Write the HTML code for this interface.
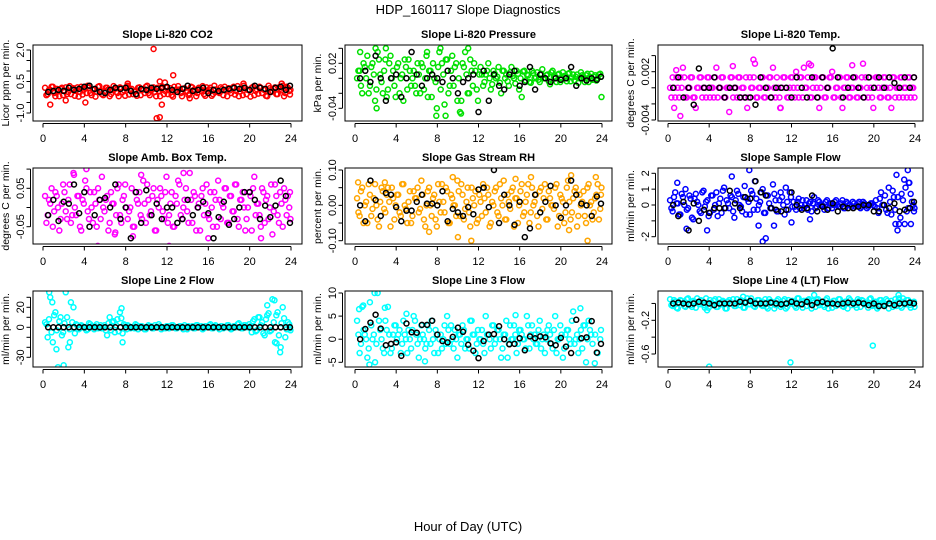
<!DOCTYPE html>
<html><head><meta charset="utf-8"><style>
html,body{margin:0;padding:0;background:#fff;}
svg{display:block;font-family:"Liberation Sans",Arial,sans-serif;}
</style></head><body>
<svg id="chart" width="936" height="540" viewBox="0 0 936 540" xmlns="http://www.w3.org/2000/svg">
<text x="468" y="14" text-anchor="middle" font-size="13">HDP_160117  Slope Diagnostics</text>
<text x="468" y="531" text-anchor="middle" font-size="13">Hour of Day (UTC)</text>
</svg>
<script>
const hours=[0.2,0.45,0.7,0.95,1.2,1.45,1.7,1.95,2.2,2.45,2.7,2.95,3.2,3.45,3.7,3.95,4.2,4.45,4.7,4.95,5.2,5.45,5.7,5.95,6.2,6.45,6.7,6.95,7.2,7.45,7.7,7.95,8.2,8.45,8.7,8.95,9.2,9.45,9.7,9.95,10.2,10.45,10.7,10.95,11.2,11.45,11.7,11.95,12.2,12.45,12.7,12.95,13.2,13.45,13.7,13.95,14.2,14.45,14.7,14.95,15.2,15.45,15.7,15.95,16.2,16.45,16.7,16.95,17.2,17.45,17.7,17.95,18.2,18.45,18.7,18.95,19.2,19.45,19.7,19.95,20.2,20.45,20.7,20.95,21.2,21.45,21.7,21.95,22.2,22.45,22.7,22.95,23.2,23.45,23.7,23.95];
const hours2=[0.33,0.58,0.83,1.08,1.33,1.58,1.83,2.08,2.33,2.58,2.83,3.08,3.33,3.58,3.83,4.08,4.33,4.58,4.83,5.08,5.33,5.58,5.83,6.08,6.33,6.58,6.83,7.08,7.33,7.58,7.83,8.08,8.33,8.58,8.83,9.08,9.33,9.58,9.83,10.08,10.33,10.58,10.83,11.08,11.33,11.58,11.83,12.08,12.33,12.58,12.83,13.08,13.33,13.58,13.83,14.08,14.33,14.58,14.83,15.08,15.33,15.58,15.83,16.08,16.33,16.58,16.83,17.08,17.33,17.58,17.83,18.08,18.33,18.58,18.83,19.08,19.33,19.58,19.83,20.08,20.33,20.58,20.83,21.08,21.33,21.58,21.83,22.08,22.33,22.58,22.83,23.08,23.33,23.58,23.83,23.9];
const blackHours=[0.5,1,1.5,2,2.5,3,3.5,4,4.5,5,5.5,6,6.5,7,7.5,8,8.5,9,9.5,10,10.5,11,11.5,12,12.5,13,13.5,14,14.5,15,15.5,16,16.5,17,17.5,18,18.5,19,19.5,20,20.5,21,21.5,22,22.5,23,23.5,23.9];
const xTicks=[0,4,8,12,16,20,24];

const co2Vals=[0.2,-0.1,0.1,0.25,-0.2,0.05,0.15,-0.15,0.22,0,-0.1,0.18,0.08,-0.22,0.25,0.1,-0.05,0.2,-0.15,0.12,0.02,0.28,-0.1,0.05,0.2,-0.2,0.1,0.15,-0.05,0.22,0,-0.18,0.3,0.1,-0.1,0.05,0.2,-0.15,0.12,0.25,-0.05,0.1,0.22,-0.2,0.05,0.15,-0.1,0.2,0.08,-0.15,0.25,0.02,0.12,-0.2,0.18,0.05,-0.1,0.22,0.1,-0.05,0.15,0.28,-0.18,0.05,0.2,-0.1,0.12,0,0.22,-0.15,0.1,0.18,-0.05,0.25,0.05,-0.2,0.15,0.3,-0.1,0.08,0.2,-0.15,0.12,0.25,-0.05,0.1,-0.2,0.18,0.05,0.22,-0.1,0.15,0.3,-0.05,0.2,0.1];
const co2Vals2=[-0.15,0.1,0.25,-0.05,0.15,-0.2,0.2,0.05,-0.1,0.28,0.12,-0.18,0.22,0,-0.12,0.18,0.3,-0.05,0.1,-0.22,0.25,0.05,-0.15,0.2,0.12,-0.1,0.28,0,-0.2,0.18,0.08,0.25,-0.12,0.15,0.02,-0.18,0.22,0.1,-0.05,0.3,-0.15,0.12,0,0.2,-0.2,0.25,0.05,-0.1,0.18,-0.22,0.1,0.28,-0.05,0.15,0.02,-0.15,0.25,0.1,-0.2,0.2,0.05,-0.1,0.22,0.12,-0.18,0.3,0,-0.05,0.15,0.25,-0.2,0.08,0.2,-0.12,0.28,0.02,-0.15,0.18,0.1,-0.22,0.25,0.05,-0.08,0.2,0.12,-0.18,0.3,0,0.15,-0.1,0.22,0.08,-0.2,0.25,0.05,-0.12];
const co2Black=[0,0.05,0.1,0.05,0.2,0.1,0.15,0.25,0.3,0.15,0,-0.05,0.1,0.2,0.15,0.2,0.05,-0.1,0.15,0.1,0.2,0.15,0.2,0.25,0.1,0,0.15,0.3,0.05,0.1,0.2,-0.05,0.1,0.05,0.1,0.15,0.2,0.15,0.2,0.1,0.3,0.2,0.15,0,0.2,0.25,0.1,0.3];
const co2OutX=[10.7,12.6,11.3,11.8,11.5,11.3,11.0,0.7,4.1,8.2,19.4,23.1,14.2,2.2];
const co2OutY=[2.05,0.8,0.5,0.45,-0.6,-1.2,-1.25,-0.6,-0.5,0.4,0.4,0.4,-0.3,-0.4];

const presVals=[0,0.01,-0.02,0.015,0.03,-0.01,0.02,-0.03,0.035,0.005,-0.02,0.025,-0.015,0.03,0.01,-0.025,0.02,0,-0.03,0.015,0.025,-0.01,0.01,-0.02,0.005,0.02,-0.015,0.03,0.01,-0.025,0,-0.04,0.035,0.02,-0.035,0.025,-0.01,0.03,0.015,-0.03,-0.045,0.02,0.035,-0.02,0.025,-0.01,0.01,-0.03,0.015,-0.01,0.005,0.02,-0.015,0.01,0,0.015,-0.02,0.01,0.005,-0.01,0.015,0,0.01,-0.015,-0.025,0.01,0.005,-0.005,0.01,0,0.008,-0.005,0.012,0,0.005,-0.008,0.01,0.002,0.005,-0.005,0.008,0,0.006,-0.004,0.005,0.002,-0.006,0.008,0,0.004,-0.005,0.006,0.002,-0.003,0.005,-0.025];
const presVals2=[0.01,-0.01,0.02,0,-0.02,0.015,0.005,-0.015,0.025,-0.005,0.01,-0.025,0.02,0,-0.01,0.015,-0.02,0.005,0.025,-0.015,0.01,0,-0.01,0.02,-0.02,0.015,0,-0.025,0.01,0.02,-0.005,0.015,-0.015,0.005,0.025,-0.02,0.01,-0.01,0.02,0,-0.03,0.015,0.005,-0.02,0.01,0.02,-0.015,0.005,0.005,-0.005,0.01,0,-0.008,0.006,0.002,-0.006,0.01,0,-0.004,0.008,0.003,-0.007,0.006,0,0.009,-0.003,0.004,-0.006,0.007,0.001,-0.002,0.006,0,0.004,-0.004,0.008,0.002,-0.005,0.006,0,0.003,-0.004,0.007,0.001,-0.003,0.005,0,0.004,-0.005,0.006,0.002,-0.002,0.004,0,0.006,0.002];
const presBlack=[0,0.01,-0.005,0.03,0,-0.03,0,0.005,-0.025,0,0.035,0.005,-0.01,0,0.005,0,-0.005,0.01,0,-0.02,-0.005,0,0.005,-0.045,0.01,-0.03,0.005,-0.01,-0.015,0.005,0.01,-0.01,-0.005,0.015,-0.015,0.005,0,-0.005,0,-0.002,0,0.015,-0.01,0,-0.003,0,-0.002,0.002];
const presOutX=[0.5,2.0,3.0,7.0,8.3,8.8,10.3,11.0,2.1,7.9];
const presOutY=[0.035,0.04,0.04,0.035,0.04,-0.05,-0.047,0.04,-0.04,-0.05];

const tempVals=[0,0.0013,-0.0012,0,0.0013,0.0025,-0.0012,0,0.0013,-0.0012,-0.0025,0,0.0013,0,-0.0012,0.0013,0,-0.0012,0.0025,0,0.0013,-0.0012,0,-0.003,0.0013,0,-0.0012,0.0013,0,-0.0012,-0.0025,0.0013,0,0.003,-0.0012,0,0.0013,-0.0012,0,0.0013,0.0025,-0.0012,0,-0.0025,0.0013,0,-0.0012,0.0013,0,0.002,-0.0012,0.0013,0.0025,0,0.003,-0.0012,0.0013,0,-0.0025,0.0013,-0.0012,0,0.0013,0.002,-0.0012,0,0.0013,-0.0025,0,0.0013,-0.0012,0,0.0013,-0.0012,0,0.003,0.0013,-0.0012,0,-0.0025,0.0013,0,-0.0012,0.0013,0,-0.0012,-0.0025,0.0013,0,-0.0012,0.0013,0,-0.0012,0.0013,0,-0.0012];
const tempVals2=[-0.0012,0,0.0013,-0.0012,0,0.0013,-0.0012,0,0.0013,-0.0012,0,0.0013,-0.0012,0,0.0013,-0.0012,0,0.0013,-0.0012,0,0.0013,-0.0012,0,0.0013,-0.0012,0,0.0013,-0.0012,0,0.0013,-0.0012,0,0.0013,-0.0012,0,0.0013,-0.0012,0,0.0013,-0.0012,0,0.0013,-0.0012,0,0.0013,-0.0012,0,0.0013,-0.0012,0,0.0013,-0.0012,0,0.0013,-0.0012,0,0.0013,-0.0012,0,0.0013,-0.0012,0,0.0013,-0.0012,0,0.0013,-0.0012,0,0.0013,-0.0012,0,0.0013,-0.0012,0,0.0013,-0.0012,0,0.0013,-0.0012,0,0.0013,-0.0012,0,0.0013,-0.0012,0,0.0013,-0.0012,0,0.0013,-0.0012,0,0.0013,-0.0012,0,0.0013];
const tempBlack=[0,0.0013,-0.0012,0,-0.0021,0.0024,0,0,0.0013,0,-0.0012,0,0,-0.0012,-0.0012,-0.0012,-0.0021,0.0013,0,-0.0012,0,0,0,-0.0012,0.0013,0,-0.0012,0.0013,-0.0012,0.0013,0,0.0049,0.0013,-0.0012,0,0.0013,0,-0.0012,0.0013,0,0.0013,0,0.0013,0.0006,0,0.0013,0,0.0013];
const tempOutX=[2.7,9.0,12.0,14.4,0.6,1.2,8.3,6.3,13.9,17.9,0.8,10.9];
const tempOutY=[-0.0045,-0.0045,-0.0045,-0.0045,-0.0025,-0.0035,0.0035,0.0027,0.0028,0.0028,0.0022,-0.0025];

const ambVals=[0.03,-0.02,0.01,-0.05,0.04,0,-0.03,0.06,-0.01,0.02,-0.04,0.09,-0.02,0.03,-0.06,0.01,0.05,-0.03,0,0.04,-0.05,0.02,0.08,-0.01,0.03,-0.04,0.01,-0.07,0.05,-0.02,0.02,0.06,-0.03,0,-0.05,0.04,0.01,-0.02,0.07,-0.04,0.02,-0.01,0.05,-0.06,0,0.03,-0.03,0.08,-0.02,0.04,-0.05,0.01,0.06,-0.03,0.02,-0.01,0.09,-0.04,0.03,0,-0.06,0.05,0.01,-0.02,0.04,-0.05,0.02,0.07,-0.03,0,0.05,-0.04,0.03,-0.01,0.06,-0.05,0.02,0,-0.03,0.04,-0.06,0.08,0.01,-0.02,0.05,-0.04,0.03,0,-0.07,0.06,-0.02,0.04,-0.05,0.02,0.03,-0.03];
const ambVals2=[-0.04,0.02,0.05,-0.01,0.03,-0.06,0.01,0.04,-0.03,0.06,-0.02,0,0.03,-0.05,0.02,0.07,-0.01,0.04,-0.04,0.01,0.05,-0.03,0,0.02,-0.06,0.04,0.01,-0.02,0.06,-0.04,0.03,0,-0.01,0.05,-0.05,0.02,0.04,-0.03,0.01,0.06,-0.02,0.03,-0.06,0.02,0.05,-0.01,0.04,-0.04,0.01,-0.05,0.03,0.07,-0.02,0,0.05,-0.04,0.02,0.04,-0.06,0.01,0.03,-0.02,0.06,-0.03,0,0.04,-0.05,0.02,0.01,0.05,-0.04,0.03,-0.01,0.06,-0.03,0.02,0.04,-0.06,0,0.03,0.05,-0.02,0.01,-0.05,0.04,0.02,-0.03,0.06,-0.01,0.03,-0.04,0.01,0.05,-0.02,0,0.04];
const ambBlack=[-0.02,0.02,-0.035,0.015,0.01,0.06,-0.015,0.04,-0.05,-0.02,0.02,0.025,0,0.06,-0.03,0,-0.08,0.04,-0.04,0.045,-0.02,0.01,-0.03,0,0,-0.04,-0.03,0.02,-0.02,0,0.015,-0.015,-0.08,-0.025,0.015,-0.045,-0.03,0,0.04,0.04,0.02,-0.03,0.005,-0.025,0.005,0.07,0.03,-0.04];
const ambOutX=[1.4,1.9,4.2,5.3,12.2,8.7,21.1,16.0,7.0,3.0,9.5,13.6];
const ambOutY=[0.11,0.11,0.1,-0.1,-0.1,-0.075,-0.08,-0.08,-0.065,0.085,0.085,0.09];

const rhVals=[0.02,-0.03,0.05,0,-0.05,0.03,-0.01,0.06,-0.04,0.01,0.04,-0.02,0.05,-0.06,0.02,0,0.03,-0.03,0.06,-0.01,0.01,-0.05,0.04,0.02,-0.02,0.07,-0.04,0,0.05,-0.03,0.03,-0.06,0.01,0.06,-0.02,0.04,-0.05,0.02,0,0.07,-0.03,0.03,-0.01,0.05,-0.06,0.02,0.04,-0.04,0.01,0.06,-0.02,0.03,-0.05,0,0.05,-0.03,0.02,0.07,-0.04,0.01,0.04,-0.06,0.02,0,0.06,-0.02,0.03,-0.05,0.05,0.01,-0.03,0.04,-0.01,0.06,-0.04,0.02,0,0.05,-0.06,0.03,0.01,-0.02,0.07,-0.04,0.02,0.05,-0.03,0,0.04,-0.05,0.06,0.01,-0.02,0.03,-0.04,0.05];
const rhVals2=[-0.02,0.04,-0.05,0.01,0.06,-0.03,0.02,0,-0.06,0.05,-0.01,0.03,0.01,0.05,-0.04,0.03,-0.02,0.06,0,-0.05,0.04,-0.03,0.02,0.05,-0.01,0.03,-0.06,0.04,0,0.02,-0.04,0.06,-0.02,0.01,0.05,-0.05,0.03,0,-0.03,0.04,0.06,-0.04,0.01,-0.02,0.05,0,-0.05,0.03,-0.03,0.02,0.05,-0.06,0.01,0.04,-0.02,0.06,0,-0.04,0.03,-0.01,0.05,0.02,-0.05,0.04,-0.03,0.01,0.06,-0.02,0,0.03,-0.06,0.05,0.02,-0.04,0.04,0,-0.01,0.06,-0.03,0.02,-0.05,0.05,0.01,-0.02,0.04,-0.06,0.03,0.01,-0.03,0.05,0,-0.04,0.02,0.06,-0.01,0.03];
const rhBlack=[0,-0.045,0.07,0.015,-0.03,0.035,0.03,-0.005,-0.045,-0.015,-0.015,0.01,0.03,0.005,0.005,0,0.04,-0.045,-0.01,-0.02,-0.03,-0.005,-0.025,0.045,0.05,-0.005,0.1,-0.05,0.03,0,-0.055,0.01,-0.09,-0.065,0.03,-0.02,0.01,0.055,0,-0.035,0,0.07,0.03,0.005,0,-0.03,0.025,0.005];
const rhOutX=[0.3,2.9,9.5,10.0,11.3,7.2,20.8,21.0,22.6,23.4,17.1,15.6];
const rhOutY=[0.065,0.065,0.08,-0.09,-0.1,-0.075,-0.07,0.085,-0.1,0.08,0.08,0.075];

const flowVals=[0.3,-0.4,0.8,0.1,-0.6,0.5,1.0,-0.2,0.4,-0.9,0.7,0,-0.5,0.9,0.2,-0.7,0.6,-0.3,0.8,0.1,-0.5,1.1,0.3,-0.2,0.5,-0.8,0.9,0,-0.4,1.2,0.4,-0.6,0.7,1.5,-0.3,0.2,1.0,-0.5,0.6,-0.2,1.3,0.3,-0.4,0.8,0,1.1,-0.3,0.5,0.2,-0.3,0.4,0,-0.2,0.3,0.1,-0.4,0.5,-0.1,0.2,0,-0.3,0.3,0.1,-0.2,0.2,0,-0.1,0.3,-0.2,0.1,0,0.2,-0.1,0.1,-0.2,0.2,0,-0.1,0.1,0,0.3,-0.5,0.8,0,-0.3,1.1,-0.6,0.5,1.9,-1.2,0.7,1.6,-0.4,1.4,0.2,-0.2];
const flowVals2=[-0.2,0.5,0.1,-0.6,0.7,0,-0.3,0.6,-0.8,0.4,0.2,-0.4,0.8,-0.1,0.3,-0.5,0.6,0,-0.7,0.4,0.9,-0.2,0.1,0.6,-0.4,0.3,0.7,-0.1,0.5,-0.6,0.2,0.9,-0.3,0.4,0,0.8,-0.5,0.6,0.1,-0.2,0.7,-0.4,0.3,0.5,-0.6,0.2,0.8,-0.1,-0.1,0.2,-0.2,0.3,0,-0.3,0.2,0.1,-0.2,0.3,0,-0.1,0.2,-0.2,0.1,0,0.3,-0.1,0.1,-0.2,0.2,0,-0.1,0.1,0,0.2,-0.1,0.1,-0.2,0,0.1,-0.1,-0.2,0.4,0,0.6,-0.5,0.2,0.9,-0.3,0.5,-0.8,0.3,1.1,-0.2,0.7,0,-0.4];
const flowBlack=[0,-0.7,0.2,-1.6,0.1,-1.0,-0.3,-0.5,-0.2,-0.2,-0.2,0.9,0.1,-0.2,0.5,0.4,1.5,0.8,0.6,-0.2,-0.3,-0.4,-0.3,0.8,0,-0.3,-0.2,0.6,-0.4,-0.1,-0.3,0.1,-0.4,-0.1,-0.2,-0.2,-0.1,0,0,-0.4,-0.4,0,-0.2,0.1,-0.4,-0.3,-0.2,0.2];
const flowOutX=[0.9,1.8,3.8,6.2,7.9,9.2,9.5,8.8,10.3,12.0,13.8,22.1,22.3,23.3,23.0,23.6,23.4];
const flowOutY=[1.4,-1.5,-1.6,1.8,2.2,-2.3,-2.1,-1.3,-1.3,-1.1,-0.9,-1.2,-1.6,2.2,-1.2,-1.2,1.4];

const l2Vals=[5,-10,30,-15,15,-40,10,-5,35,-20,25,20,3,-2,2,0,-3,4,1,-2,3,0,-1,2,-8,10,5,-5,8,15,-6,2,2,-1,0,3,-2,1,0,-2,2,1,-1,0,3,-2,0,1,-1,2,0,-1,1,0,2,-2,0,1,-1,2,0,-2,1,0,3,-1,2,0,1,-1,0,2,-2,1,0,4,-1,2,0,3,-5,8,-3,10,5,-8,12,-4,28,-15,15,-25,20,-10,5,-3];
const l2Vals2=[3,8,-5,12,-3,6,-8,4,10,-2,5,-6,2,-1,1,0,-2,3,0,1,-1,2,0,-3,4,-3,6,2,-4,9,3,-2,1,0,-1,2,0,1,-2,0,1,-1,2,0,1,0,-1,1,0,2,-1,0,1,-2,0,1,0,-1,2,0,1,-1,0,2,-1,1,0,-2,1,0,2,0,-1,1,3,0,-1,2,0,1,6,-4,10,2,-6,8,14,-3,5,12,-8,4,9,-2,3,-1];
const l2Black=[0,0,0,0,0,0,0,0,0,0,0,0,0,0,0,0,0,0,0,0,0,0,0,0,0,0,0,0,0,0,0,0,0,0,0,0,0,0,0,0,0,0,0,0,0,0,0,0];
const l2OutX=[0.6,2.0,1.3,7.7,7.6,21.7,22.4,23.0,22.6,0.9,2.6];
const l2OutY=[35,-38,-22,-15,19,22,27,-20,-16,25,-15];

const l3Vals=[4,-3,7,1,-4,8,0,-5,10,2,-2,4,7,-3,1,3,1,-3,4,0,2,-2,5,1,-4,3,0,-1,2,4,-3,1,0,-2,3,5,-1,0,2,-4,1,3,-2,0,4,1,-3,2,0,-1,5,1,-2,3,0,2,-4,1,4,-1,0,3,-3,2,1,0,5,-2,3,1,-1,4,0,-3,2,1,-2,5,0,3,-4,1,2,-1,6,0,-3,2,3,-5,4,1];
const l3Vals2=[1,-1,2,0,-2,3,1,-1,4,0,-3,2,1,-2,3,0,2,-1,1,-3,0,2,4,-1,0,1,-2,3,-1,0,2,-3,1,0,-1,2,3,-2,0,1,-1,2,0,-2,4,1,-1,0,2,-3,1,0,3,-1,2,0,-2,1,-4,3,0,1,-1,2,0,-2,3,1,0,-1,2,-2,1,0,3,-1,2,-3,0,1,-2,2,0,4,-1,1,0,-2,3,0,2,-1,1,-3,0,2];
const l3Black=[0,2.2,3.6,5.3,2.3,-1.3,-1.0,-0.7,-3.6,3.4,1.5,1.4,3.1,3.1,4.0,1.0,-0.4,-0.7,0.5,2.5,1.6,-1.2,-2.5,-4.1,-0.4,1.0,1.1,2.8,0,-1.1,-1.0,0.2,-2.4,0.6,0.2,0.6,0.4,-0.9,-1.3,0.3,-1.6,-3.0,4.2,0.2,0.4,3.9,-2.9,-1.0];
const l3OutX=[1.4,1.9,0.4,15.6,21.9,23.3,6.8,2.9,0.8,5.0];
const l3OutY=[-5.5,10,6.5,5.2,6.7,-5.2,-4.8,6.8,7.3,5.5];

const l4Vals=[0.05,-0.03,0.02,-0.06,0.04,0,-0.04,0.06,-0.02,0.03,-0.05,0.01,0.04,-0.02,0.06,-0.05,0.01,0.03,-0.04,0.05,-0.01,0.02,-0.06,0.04,0,-0.03,0.05,-0.02,0.03,-0.05,0.06,-0.01,0.02,-0.04,0.04,0,-0.03,0.05,-0.06,0.02,0.01,-0.02,0.05,-0.04,0.03,-0.06,0.04,0,0.02,-0.05,0.06,-0.01,0.03,-0.03,0.05,-0.06,0.01,0.04,-0.02,0.02,-0.04,0.06,0,-0.05,0.03,-0.01,0.05,-0.03,0.02,-0.06,0.04,0.01,-0.02,0.05,-0.04,0.03,0,-0.05,0.06,-0.02,0.02,-0.04,0.04,-0.01,0.05,-0.06,0.03,0,-0.03,0.06,-0.05,0.02,0.04,-0.02,0.01,-0.04];
const l4Vals2=[-0.02,0.04,-0.05,0.01,0.03,-0.03,0.05,0,-0.04,0.02,0.06,-0.01,0.03,-0.05,0,0.04,-0.02,0.05,-0.04,0.01,0.03,-0.06,0.02,0,0.05,-0.03,0.01,0.04,-0.05,0.02,-0.01,0.06,-0.03,0,0.04,-0.02,0.01,-0.04,0.05,0.02,-0.06,0.03,0,-0.02,0.05,-0.04,0.01,0.03,-0.03,0.06,0,-0.05,0.02,0.04,-0.01,0.03,-0.04,0.05,0,-0.02,0.04,-0.06,0.01,0.03,-0.03,0.05,0,-0.04,0.02,0.06,-0.02,0.01,-0.05,0.03,0.04,-0.01,0,0.05,-0.03,0.02,-0.06,0.04,0.01,-0.02,0.03,0,-0.04,0.05,0.02,-0.03,0.06,-0.01,0.04,-0.05,0,0.02];
const l4Black=[0,0.01,0,-0.01,0,0.02,0.01,0,-0.02,0,0,0,0,0.02,0.01,0.03,0,0,0,0.01,0,-0.01,0,0.02,0,-0.01,0.02,-0.02,0.01,0.02,0,0,-0.01,0,0.01,0,0.01,0,-0.02,0,-0.03,-0.03,0,-0.02,0,0,0.01,0];
const l4OutX=[4.0,11.9,19.9,22.4,7.3,14.2,3.8];
const l4OutY=[-0.75,-0.7,-0.5,0.1,0.08,0.1,-0.08];

const cols=[{l:33,r:302,x0:43,x24:291},{l:345,r:612,x0:355,x24:602},{l:658,r:923,x0:668,x24:915}];
const rows=[{t:45,b:121},{t:168,b:244},{t:291,b:367}];
const panels=[
 {name:'co2',title:'Slope Li-820 CO2',ylab:'Licor ppm per min.',c:0,r:0,color:'#ff0000',v:co2Vals,v2:co2Vals2,k:co2Black,ox:co2OutX,oy:co2OutY,ya:2.0,pa:50,yb:-1.0,pb:113,ticks:[-1,-0.5,0,0.5,1,1.5,2],labels:[['2.0',2],['0.5',0.5],['-1.0',-1]]},
 {name:'pressure',title:'Slope Li-820 Pressure',ylab:'kPa per min.',c:1,r:0,color:'#00e000',v:presVals,v2:presVals2,k:presBlack,ox:presOutX,oy:presOutY,ya:0.02,pa:63.3,yb:-0.04,pb:108.3,ticks:[-0.04,-0.02,0,0.02,0.04],labels:[['0.02',0.02],['-0.04',-0.04]]},
 {name:'li820-temp',title:'Slope Li-820 Temp.',ylab:'degrees C per min.',c:2,r:0,color:'#ff00ff',v:tempVals,v2:tempVals2,k:tempBlack,ox:tempOutX,oy:tempOutY,ya:0.002,pa:71.7,yb:-0.004,pb:120,ticks:[-0.004,-0.002,0,0.002,0.004],labels:[['0.002',0.002],['-0.004',-0.004]]},
 {name:'amb-box-temp',title:'Slope Amb. Box Temp.',ylab:'degrees C per min.',c:0,r:1,color:'#ff00ff',v:ambVals,v2:ambVals2,k:ambBlack,ox:ambOutX,oy:ambOutY,ya:0.05,pa:188.3,yb:-0.05,pb:226.7,ticks:[-0.05,0,0.05,0.1],labels:[['0.05',0.05],['-0.05',-0.05]]},
 {name:'gas-stream-rh',title:'Slope Gas Stream RH',ylab:'percent per min.',c:1,r:1,color:'#ffa500',v:rhVals,v2:rhVals2,k:rhBlack,ox:rhOutX,oy:rhOutY,ya:0.1,pa:170,yb:-0.1,pb:240.7,ticks:[-0.1,-0.05,0,0.05,0.1],labels:[['0.10',0.1],['0.00',0],['-0.10',-0.1]]},
 {name:'sample-flow',title:'Slope Sample Flow',ylab:'ml/min per min.',c:2,r:1,color:'#0000ff',v:flowVals,v2:flowVals2,k:flowBlack,ox:flowOutX,oy:flowOutY,ya:2,pa:173.3,yb:-2,pb:236.7,ticks:[-2,-1,0,1,2],labels:[['2',2],['1',1],['0',0],['-2',-2]]},
 {name:'line2-flow',title:'Slope Line 2 Flow',ylab:'ml/min per min.',c:0,r:2,color:'#00ffff',v:l2Vals,v2:l2Vals2,k:l2Black,ox:l2OutX,oy:l2OutY,ya:20,pa:307.3,yb:-30,pb:357.3,ticks:[-30,-20,-10,0,10,20,30],labels:[['20',20],['0',0],['-30',-30]]},
 {name:'line3-flow',title:'Slope Line 3 Flow',ylab:'ml/min per min.',c:1,r:2,color:'#00ffff',v:l3Vals,v2:l3Vals2,k:l3Black,ox:l3OutX,oy:l3OutY,ya:10,pa:293,yb:-5,pb:362.3,ticks:[-5,0,5,10],labels:[['10',10],['5',5],['0',0],['-5',-5]]},
 {name:'line4-flow',title:'Slope Line 4 (LT) Flow',ylab:'ml/min per min.',c:2,r:2,color:'#00ffff',v:l4Vals,v2:l4Vals2,k:l4Black,ox:l4OutX,oy:l4OutY,ya:-0.2,pa:320.3,yb:-0.6,pb:354,ticks:[-0.6,-0.4,-0.2,0],labels:[['-0.2',-0.2],['-0.6',-0.6]]}
];
const NS='http://www.w3.org/2000/svg';
const svg=document.getElementById('chart');
function mk(tag,attrs,parent){const e=document.createElementNS(NS,tag);for(const a in attrs)e.setAttribute(a,attrs[a]);(parent||svg).appendChild(e);return e;}
panels.forEach(p=>{
 const col=cols[p.c],row=rows[p.r];
 const xs=h=>col.x0+(col.x24-col.x0)*h/24;
 const ys=v=>p.pa+(p.pb-p.pa)*(v-p.ya)/(p.yb-p.ya);
 const g=mk('g',{});
 
 
 const defsId='clip-'+p.name;
 const cp=mk('clipPath',{id:defsId},g);
 mk('rect',{x:col.l,y:row.t,width:col.r-col.l,height:row.b-row.t},cp);
 const t=mk('text',{x:(col.l+col.r)/2,y:row.t-7,'text-anchor':'middle','font-size':'11','font-weight':'bold'},g);
 t.textContent=p.title;
 
 
 const yl=mk('text',{transform:'translate('+(col.l-24)+','+((row.t+row.b)/2)+') rotate(-90)','text-anchor':'middle','font-size':'10.5'},g);
 yl.textContent=p.ylab;
 
 
 const xa=mk('g',{},g);
 
 
 const ay=row.b+2.5;
 mk('line',{x1:xs(0),x2:xs(24),y1:ay,y2:ay,stroke:'#000','stroke-width':1},xa);
 xTicks.forEach(h=>{
  mk('line',{x1:xs(h),x2:xs(h),y1:ay,y2:ay+4,stroke:'#000','stroke-width':1},xa);
  const tl=mk('text',{x:xs(h),y:row.b+21,'text-anchor':'middle','font-size':'11'},xa);
  tl.textContent=String(h);
  
  
 });
 const ya=mk('g',{},g);
 
 
 const axx=col.l-2.5;
 const tv=p.ticks.map(ys);
 mk('line',{x1:axx,x2:axx,y1:Math.min(...tv),y2:Math.max(...tv),stroke:'#000','stroke-width':1},ya);
 p.ticks.forEach(v=>mk('line',{x1:axx-4,x2:axx,y1:ys(v),y2:ys(v),stroke:'#000','stroke-width':1},ya));
 p.labels.forEach(([s,v])=>{
  const tl=mk('text',{transform:'translate('+(col.l-9)+','+ys(v)+') rotate(-90)','text-anchor':'middle','font-size':'11'},ya);
  tl.textContent=s;
  
  
 });
 const pts=mk('g',{'clip-path':'url(#'+defsId+')',fill:'none','stroke-width':1.5},g);
 
 
 const n=Math.min(hours.length,p.v.length);
 for(let i=0;i<n;i++){
  const c=mk('circle',{cx:xs(hours[i]),cy:ys(p.v[i]),r:2.5,stroke:p.color},pts);
  
  
 }
 const n2=Math.min(hours2.length,p.v2.length);
 for(let i=0;i<n2;i++){
  const c=mk('circle',{cx:xs(hours2[i]),cy:ys(p.v2[i]),r:2.5,stroke:p.color},pts);
  
  
 }
 for(let i=0;i<p.ox.length;i++){
  const c=mk('circle',{cx:xs(p.ox[i]),cy:ys(p.oy[i]),r:2.5,stroke:p.color},pts);
  
  
 }
 const nb=Math.min(blackHours.length,p.k.length);
 for(let i=0;i<nb;i++){
  const c=mk('circle',{cx:xs(blackHours[i]),cy:ys(p.k[i]),r:2.5,stroke:'#000'},pts);
  
  
 }
 const fr=mk('rect',{x:col.l,y:row.t,width:col.r-col.l,height:row.b-row.t,fill:'none',stroke:'#000','stroke-width':1},g);
 
 
});
</script>
</body></html>
